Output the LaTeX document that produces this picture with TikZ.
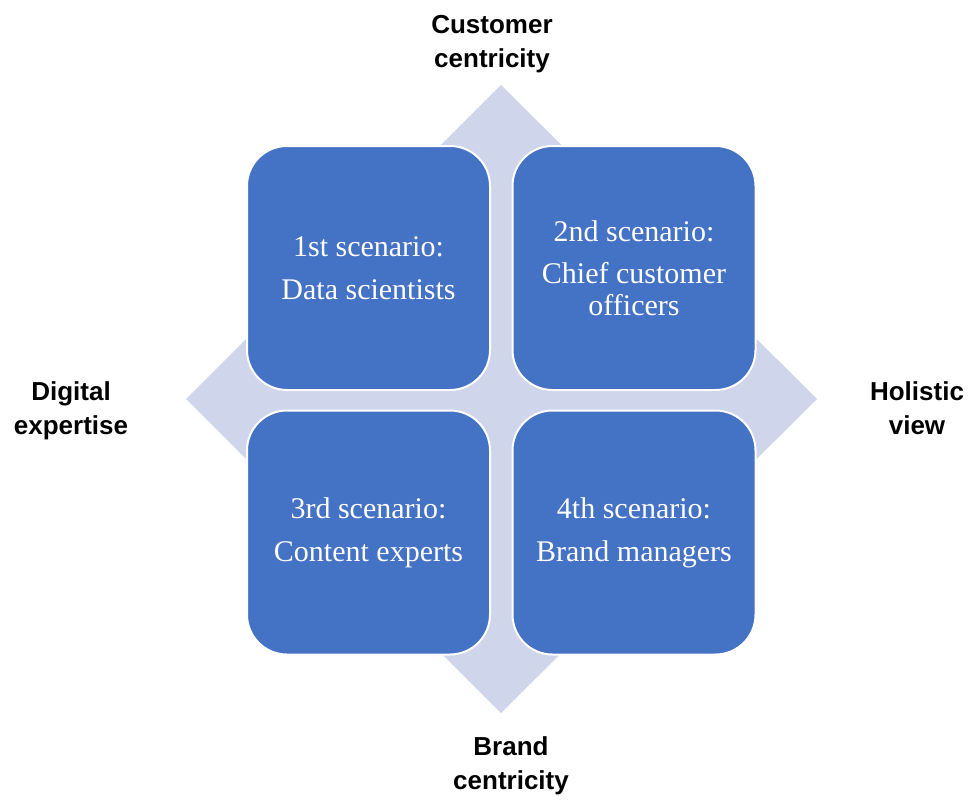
\documentclass[tikz,border=0pt]{standalone}
\usepackage{fontspec}
\setmainfont{Liberation Serif}
\newfontfamily\axisfont{Liberation Sans}
\usepackage{xcolor}
\usetikzlibrary{positioning}

\definecolor{boxblue}{RGB}{68,114,196}
\definecolor{diamondfill}{RGB}{207,213,234}

\tikzset{
  scenario/.style={draw=white, line width=2pt, fill=boxblue, rounded corners=40pt,
    minimum width=243pt, minimum height=244pt, inner sep=0pt, text=white,
    align=center, font=\fontsize{30}{32}\selectfont},
  axislabel/.style={inner sep=0pt, align=center,
    font=\axisfont\bfseries\fontsize{26}{34}\selectfont}
}

\begin{document}
\begin{tikzpicture}[x=1pt,y=1pt,yscale=-1,xscale=1]
\useasboundingbox (0,0) rectangle (976,800);

%Shape: Diamond
\fill [diamondfill] (501,85) -- (817,399) -- (501,713) -- (186,399) -- cycle ;

%Shape: Rounded Rect
\node [scenario] (first) at (368.5,268) {1st scenario:\\[11pt]Data scientists};
%Shape: Rounded Rect
\node [scenario] (second) at (634,268) {2nd scenario:\\[10pt]Chief customer\\officers};
%Shape: Rounded Rect
\node [scenario] (third) at (368.5,532.5) {3rd scenario:\\[11pt]Content experts};
%Shape: Rounded Rect
\node [scenario] (fourth) at (634,532.5) {4th scenario:\\[11pt]Brand managers};

% Text Node
\node [axislabel] (customer) at (492,44) {Customer\\centricity};
% Text Node
\node [axislabel] (digital) at (71,411) {Digital\\expertise};
% Text Node
\node [axislabel] (holistic) at (917,408) {Holistic\\view};
% Text Node
\node [axislabel] (brand) at (511,766) {Brand\\centricity};

\end{tikzpicture}
\end{document}
